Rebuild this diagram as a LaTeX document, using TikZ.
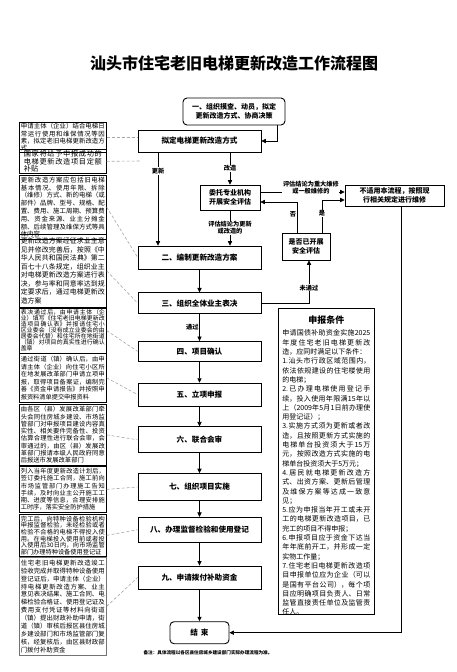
\documentclass[tikz,border=0pt]{standalone}
\usepackage{fontspec}
\setmainfont{Noto Sans CJK SC}
\XeTeXlinebreaklocale "zh"
\XeTeXlinebreakskip=0pt plus 1pt
\usetikzlibrary{positioning,arrows.meta}

\begin{document}
\begin{tikzpicture}[
		x=1pt, y=-1pt,
		flowbox/.style={
			draw,
			line width=0.7pt,
			minimum width=123pt,
			align=center,
			inner sep=1pt,
			font=\bfseries\fontsize{7.6}{9.5}\selectfont
		},
		smallbox/.style={
			draw,
			line width=0.7pt,
			align=center,
			inner sep=1pt,
			font=\bfseries\fontsize{7}{9.5}\selectfont
		},
		notebox/.style={
			draw,
			line width=0.7pt,
			anchor=north west,
			text width=84pt,
			inner sep=1.5pt,
			align=justify
		},
		hint/.style={fill=white, inner sep=0.6pt, align=center, font=\bfseries\fontsize{6.2}{7.2}\selectfont},
		guide/.style={draw=black!35, line width=0.6pt, dash pattern=on 3pt off 2pt},
		arrow/.style={-{Triangle[length=4.5pt, width=4.2pt]}, line width=0.7pt}
	]
	\useasboundingbox (0,0) rectangle (457,672);

	\node[font=\bfseries\fontsize{16}{18}\selectfont] (title) at (234,63) {汕头市住宅老旧电梯更新改造工作流程图};

	\node[smallbox, rounded corners=4pt, line width=0.9pt, minimum width=102pt, minimum height=27pt] (survey) at (234,111.5) {
		一、组织摸查、动员，拟定\\更新改造方式、协商决策
	};
	\node[flowbox, minimum height=22pt] (mode) at (199.5,141) {拟定电梯更新改造方式};
	\node[smallbox, minimum width=60pt, minimum height=25pt] (assess) at (230,197.5) {委托专业机构\\开展安全评估};
	\node[smallbox, minimum width=99pt, minimum height=21pt] (repair) at (394.5,195.5) {不适用本流程，按照现\\行相关规定进行维修};
	\node[smallbox, minimum width=48pt, minimum height=27pt] (check) at (306,246.5) {是否已开展\\安全评估};

	\node[flowbox, minimum height=23pt] (scheme) at (199.5,257.5) {二、编制更新改造方案};
	\node[flowbox, minimum height=21pt, below=23pt of scheme] (vote) {三、组织全体业主表决};
	\node[flowbox, minimum height=20pt, below=27pt of vote] (confirm) {四、项目确认};
	\node[flowbox, minimum height=23pt, below=21pt of confirm] (filing) {五、立项申报};
	\node[flowbox, minimum height=26pt, below=20pt of filing] (review) {六、联合会审};
	\node[flowbox, minimum height=27pt, below=20pt of review] (build) {七、组织项目实施};
	\node[flowbox, minimum height=25pt, below=16pt of build] (inspect) {八、办理监督检验和使用登记};
	\node[flowbox, minimum height=23pt, below=23pt of inspect] (fund) {九、申请拨付补助资金};
	\node[flowbox, rounded corners=4pt, line width=0.9pt, minimum width=59pt, minimum height=22pt, below=32pt of fund] (finish) {结\hspace{3pt}束};

	\node[notebox, inner ysep=1pt, minimum height=26pt, font=\fontsize{6.4}{7.2}\selectfont] (modenote) at (19,122) {
		申请主体（企业）结合电梯日常运行使用和维保情况等因素，拟定老旧电梯更新改造方式
	};
	\node[notebox, text width=78pt, inner xsep=4.5pt, inner ysep=0pt, minimum height=24pt, font=\fontsize{7.2}{7.4}\selectfont] (subsidynote) at (19,149) {
		国家将给予申报成功的电梯更新改造项目定额补贴
	};
	\node[notebox, minimum height=57pt, font=\fontsize{6.4}{7.8}\selectfont] (schemenote) at (19,175) {
		更新改造方案应包括旧电梯基本情况、使用年限、拆除（维修）方式、新的电梯（或部件）品牌、型号、规格、配置、费用、施工周期、预算费用、资金来源、业主分摊金额、后续管理及维保方式等具体内容
	};
	\node[notebox, minimum height=73pt, font=\fontsize{6.9}{8.6}\selectfont] (votenote) at (19,234) {
		更新改造方案经征求业主意见并修改完善后，按照《中华人民共和国民法典》第二百七十八条规定，组织业主对电梯更新改造方案进行表决，参与率和同意率达到规定要求后，通过电梯更新改造方案
	};
	\node[notebox, minimum height=43pt, font=\fontsize{5.9}{6}\selectfont] (confirmnote) at (19,308) {
		表决通过后，由申请主体（企业）填写《住宅老旧电梯更新改造项目确认表》并报请住宅小区业委会（没有成立业委会的由居委会代替）和住宅所在地街道（镇）对项目的真实性进行确认盖章
	};
	\node[notebox, minimum height=49pt, font=\fontsize{6.2}{7.5}\selectfont] (filingnote) at (19,353) {
		通过街道（镇）确认后，由申请主体（企业）向住宅小区所在地发展改革部门申请立项申报，取得项目备案证，编制完善《资金申请报告》并按照申报资料清单提交申报资料
	};
	\node[notebox, minimum height=61pt, font=\fontsize{6.3}{7.3}\selectfont] (reviewnote) at (19,404) {
		由各区（县）发展改革部门牵头会同住房城乡建设、市场监管部门对申报项目建设内容真实性、相关要件完备性、投资估算合理性进行联合会审，会审通过的，由区（县）发展改革部门报请本级人民政府同意后报送市发展改革部门
	};
	\node[notebox, minimum height=46pt, font=\fontsize{6.2}{7.1}\selectfont] (buildnote) at (19,466) {
		列入当年度更新改造计划后，签订委托施工合同，施工前向市场监管部门办理施工告知手续，及时向业主公开施工工期、进度等信息，合理安排施工时序，落实安全防护措施
	};
	\node[notebox, minimum height=42pt, font=\fontsize{6.2}{6.6}\selectfont] (inspectnote) at (19,514) {
		完工后，向特种设备检验机构申报监督检验，未经检验或者检验不合格的电梯不得投入使用。在电梯投入使用前或者投入使用后30日内，向市场监管部门办理特种设备使用登记证
	};
	\node[notebox, draw=black!55, minimum height=98pt, font=\fontsize{6.4}{7.9}\selectfont] (fundnote) at (19,557) {
		住宅老旧电梯更新改造竣工验收完成并取得特种设备使用登记证后，申请主体（企业）持电梯更新改造方案、业主意见表决结果、施工合同、电梯检验合格证、使用登记证及费用支付凭证等材料向街道（镇）提出财政补助申请，街道（镇）审核后报区县住房城乡建设部门和市场监管部门复核，经复核后，由区县财政部门拨付补助资金
	};

	\node[draw, line width=0.7pt, anchor=north west, minimum width=96pt, minimum height=306pt] (cond) at (278,308) {};
	\node[font=\bfseries\fontsize{9}{10}\selectfont] (condtitle) at ([yshift=-12pt]cond.north) {申报条件};
	\node[below=2pt of condtitle, text width=88pt, inner sep=0pt, align=justify, font=\fontsize{7}{9.3}\selectfont] (condbody) {
		申请国债补助资金实施2025年度住宅老旧电梯更新改造，应同时满足以下条件：\\
		1.汕头市行政区域范围内，依法依规建设的住宅楼使用的电梯；\\
		2.已办理电梯使用登记手续，投入使用年限满15年以上（2009年5月1日前办理使用登记证）；\\
		3.实施方式须为更新或者改造，且按照更新方式实施的电梯单台投资须大于15万元，按照改造方式实施的电梯单台投资须大于5万元；\\
		4.居民就电梯更新改造方式、出资方案、更新后管理及维保方案等达成一致意见；\\
		5.应为申报当年开工或未开工的电梯更新改造项目，已完工的项目不得申报；\\
		6.申报项目应于资金下达当年年底前开工，并形成一定实物工作量；\\
		7.住宅老旧电梯更新改造项目申报单位应为企业（可以是国有平台公司），每个项目应明确项目负责人、日常监管直接责任单位及监管责任人。
	};

	\node[font=\bfseries\fontsize{4.6}{5}\selectfont] (remark) at (208,653) {备注：具体流程以各区县住房城乡建设部门实际办理流程为准。};

	\coordinate (subsidyend) at (140,161);

	\draw[arrow] ([xshift=-8pt]survey.south east) |- (mode.east);
	\draw[arrow] ([xshift=-41.5pt]mode.south) -- node[hint, pos=0.2] {更新} ([xshift=-41.5pt]scheme.north);
	\draw[arrow] (assess.north |- mode.south) -- node[hint] {改造} (assess.north);
	\draw[arrow] (assess.south) -- node[hint] {评估结论为更新\\或改造的} (assess.south |- scheme.north);
	\draw[arrow] ([yshift=5.5pt]assess.east) -- node[hint, pos=0.6, yshift=4.5pt] {评估结论为重大维修\\或一般维修的} ([yshift=5.5pt]assess.east -| repair.west);
	\draw[arrow] ([xshift=-9pt]check.north) |- node[hint, pos=0.3, left] {否} ([yshift=-4.5pt]assess.east);
	\draw[arrow] ([xshift=16pt]check.north) |- node[hint, pos=0.3] {是} ([yshift=-4.5pt]repair.west);
	\draw[arrow] (vote.east) -| node[hint, pos=0.68] {未通过} ([xshift=3pt]check.south);
	\draw[arrow] ([xshift=6.5pt]repair.south) |- (finish.east);

	\draw[arrow] (scheme) -- (vote);
	\draw[arrow] (vote) -- node[hint, left] {通过} (confirm);
	\draw[arrow] (confirm) -- (filing);
	\draw[arrow] (filing) -- (review);
	\draw[arrow] (review) -- (build);
	\draw[arrow] (build) -- (inspect);
	\draw[arrow] (inspect) -- (fund);
	\draw[arrow] (fund) -- (finish);

	\draw[guide] (modenote.east) -- (modenote.east -| mode.west);
	\draw[guide] (subsidynote.east) -- (subsidyend);
	\draw[guide] (schemenote.east) -- (scheme.west);
	\draw[guide] (votenote.east) -- (vote.west);
	\draw[guide] (confirmnote.east) -- (confirm.west);
	\draw[guide] (filingnote.east) -- (filing.west);
	\draw[guide] (reviewnote.east) -- (review.west);
	\draw[guide] (buildnote.east) -- (build.west);
	\draw[guide] (inspectnote.east) -- (inspect.west);
	\draw[guide] (fundnote.east) -- (fund.west);
\end{tikzpicture}
\end{document}
